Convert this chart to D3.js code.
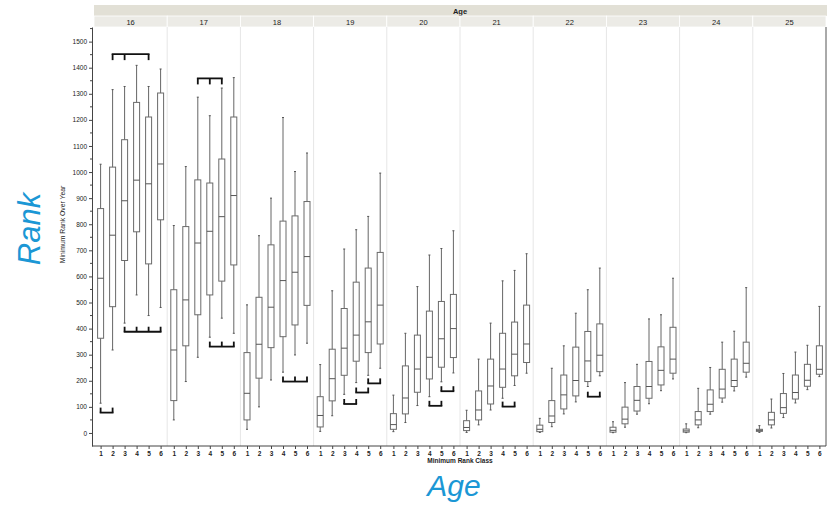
<!DOCTYPE html>
<html>
<head>
<meta charset="utf-8">
<script src="https://d3js.org/d3.v7.min.js"></script>
<style>
  body { margin: 0; background: #fff; }
  text { font-family: "Liberation Sans", Arial, sans-serif; }
</style>
</head>
<body>
<svg width="833" height="508"></svg>
<script>
var ages = [16, 17, 18, 19, 20, 21, 22, 23, 24, 25];
var classes = [1, 2, 3, 4, 5, 6];
var yTicks = [0, 100, 200, 300, 400, 500, 600, 700, 800, 900, 1000, 1100, 1200, 1300, 1400, 1500];

// [whisker low, q1, median, q3, whisker high] per class, one list per age
var stats16 = [[114, 363, 593, 860, 1030], [318, 484, 758, 1019, 1316], [421, 661, 890, 1124, 1328], [529, 771, 969, 1267, 1409], [450, 648, 955, 1211, 1328], [481, 817, 1031, 1303, 1395]];
var stats17 = [[50, 124, 318, 549, 795], [197, 334, 510, 791, 1021], [290, 453, 728, 970, 1287], [367, 529, 773, 958, 1216], [440, 582, 829, 1050, 1322], [382, 644, 910, 1211, 1362]];
var stats18 = [[14, 50, 152, 308, 491], [100, 210, 340, 520, 756], [203, 327, 482, 721, 900], [233, 369, 584, 812, 1209], [299, 414, 616, 832, 1002], [344, 489, 676, 887, 1073]];
var stats19 = [[6, 23, 67, 139, 262], [66, 123, 208, 321, 545], [148, 221, 325, 477, 705], [193, 275, 375, 578, 779], [221, 308, 426, 632, 830], [248, 341, 490, 692, 996]];
var stats20 = [[5, 14, 32, 74, 145], [40, 73, 134, 257, 382], [105, 156, 245, 375, 561], [139, 207, 290, 467, 682], [196, 252, 361, 504, 707], [230, 289, 400, 531, 775]];
var stats21 = [[2, 9, 21, 47, 87], [31, 50, 88, 161, 283], [88, 111, 180, 283, 421], [133, 175, 245, 382, 583], [182, 219, 302, 425, 623], [229, 270, 341, 490, 687]];
var stats22 = [[2, 5, 14, 30, 56], [24, 40, 65, 124, 248], [73, 92, 146, 222, 334], [119, 142, 201, 329, 459], [178, 197, 276, 389, 549], [219, 235, 298, 418, 632]];
var stats23 = [[1, 3, 10, 22, 43], [22, 35, 53, 99, 193], [72, 84, 125, 178, 263], [112, 133, 178, 274, 437], [162, 184, 240, 330, 453], [207, 229, 283, 405, 593]];
var stats24 = [[1, 3, 8, 15, 35], [20, 31, 50, 82, 171], [72, 82, 110, 165, 251], [118, 134, 168, 244, 348], [161, 178, 201, 283, 390], [214, 233, 267, 348, 557]];
var stats25 = [[2, 6, 10, 14, 28], [19, 31, 50, 79, 130], [59, 75, 97, 151, 228], [115, 130, 155, 222, 310], [166, 179, 202, 263, 336], [216, 225, 244, 334, 485]];
var allStats = [stats16, stats17, stats18, stats19, stats20, stats21, stats22, stats23, stats24, stats25];

// significance brackets: age, classes with ticks, rank value, tick direction
var bracketAge = [16, 16, 16, 17, 17, 18, 19, 19, 19, 20, 20, 21, 22];
var bracketTicks = [[2, 3, 5], [3, 4, 5, 6], [1, 2], [3, 4, 5], [4, 5, 6], [4, 5, 6], [3, 4], [4, 5], [5, 6], [4, 5], [5, 6], [4, 5], [5, 6]];
var bracketValue = [1452, 388, 78, 1359, 331, 197, 111, 155, 190, 104, 160, 101, 139];
var bracketDir = ["down", "up", "up", "down", "up", "up", "up", "up", "up", "up", "up", "up", "up"];

var svg = d3.select("svg"),
    plotLeft = 94, plotRight = 826, plotTop = 27, plotBottom = 446;

var x = d3.scaleBand().domain(ages).range([plotLeft, plotRight]);
var inner = d3.scalePoint().domain(classes).range([0, x.bandwidth()]).padding(0.55);
var y = d3.scaleLinear().domain([-50, 1556]).range([plotBottom, plotTop]);

// header strips
svg.append("rect").attr("x", plotLeft).attr("y", 5).attr("width", plotRight - plotLeft + 1).attr("height", 11).attr("fill", "#e2e0d6");
svg.append("text").attr("x", (plotLeft + plotRight) / 2).attr("y", 13.5).attr("text-anchor", "middle")
  .attr("font-size", 7.5).attr("font-weight", "bold").attr("fill", "#222").text("Age");

var head = svg.selectAll(".head").data(ages).enter().append("g").attr("class", "head")
  .attr("transform", function(d) { return "translate(" + x(d) + ",16)"; });
head.append("rect").attr("width", x.bandwidth()).attr("height", 11).attr("fill", "#ecebe6")
  .attr("stroke", "#fff").attr("stroke-width", 0.8);
head.append("text").attr("x", x.bandwidth() / 2).attr("y", 8.5).attr("text-anchor", "middle")
  .attr("font-size", 7.5).attr("fill", "#222").text(String);

// panel separators
svg.selectAll(".sep").data(ages.slice(1)).enter().append("line")
  .attr("x1", function(d) { return x(d); }).attr("x2", function(d) { return x(d); })
  .attr("y1", plotTop).attr("y2", plotBottom).attr("stroke", "#e6e6e6").attr("stroke-width", 1);
svg.append("line").attr("x1", plotRight).attr("x2", plotRight).attr("y1", plotTop).attr("y2", plotBottom)
  .attr("stroke", "#555").attr("stroke-width", 1);

// y axis
var yAxis = svg.append("g").attr("transform", "translate(" + (plotLeft - 2) + ",0)")
  .call(d3.axisLeft(y).tickValues(yTicks).tickFormat(d3.format("d")).tickSize(3).tickSizeOuter(0).tickPadding(2));
yAxis.selectAll("text").attr("font-size", 6.5).attr("fill", "#222");
yAxis.selectAll("line, path").attr("stroke", "#444");
yAxis.selectAll(".minor").data(yTicks.map(function(d) { return d + 50; })).enter().append("line")
  .attr("class", "minor").attr("x1", -2).attr("x2", 0)
  .attr("y1", function(d) { return y(d); }).attr("y2", function(d) { return y(d); })
  .attr("stroke", "#444");

svg.append("text").attr("transform", "translate(65," + ((plotTop + plotBottom) / 2 - 12) + ") rotate(-90)")
  .attr("text-anchor", "middle").attr("font-size", 6.8).attr("fill", "#222").text("Minimum Rank Over Year");

// x axes
svg.append("line").attr("x1", plotLeft - 2).attr("x2", plotRight).attr("y1", plotBottom).attr("y2", plotBottom)
  .attr("stroke", "#444");

svg.append("text").attr("x", (plotLeft + plotRight) / 2).attr("y", 463).attr("text-anchor", "middle")
  .attr("font-size", 6.5).attr("font-weight", "bold").attr("fill", "#222").text("Minimum Rank Class");

var panel = svg.selectAll(".panel").data(ages).enter().append("g").attr("class", "panel")
  .attr("transform", function(d) { return "translate(" + x(d) + ",0)"; });

panel.each(function(age, i) {
  var g = d3.select(this);
  var ax = g.append("g").attr("transform", "translate(0," + plotBottom + ")")
    .call(d3.axisBottom(inner).tickSize(3).tickSizeOuter(0).tickPadding(2));
  ax.select(".domain").remove();
  ax.selectAll("line").attr("stroke", "#444");
  ax.selectAll("text").attr("font-size", 6.5).attr("font-weight", "bold").attr("fill", "#222");

  var box = g.selectAll(".box").data(allStats[i]).enter().append("g").attr("class", "box")
    .attr("transform", function(d, j) { return "translate(" + inner(classes[j]) + ",0)"; });
  box.append("line").attr("y1", function(d) { return y(d[0]); }).attr("y2", function(d) { return y(d[4]); })
    .attr("stroke", "#666").attr("stroke-width", 1);
  box.append("rect").attr("x", -3).attr("width", 6)
    .attr("y", function(d) { return y(d[3]); })
    .attr("height", function(d) { return y(d[1]) - y(d[3]); })
    .attr("fill", "#fff").attr("stroke", "#6a6a6a").attr("stroke-width", 1);
  box.append("line").attr("x1", -3).attr("x2", 3)
    .attr("y1", function(d) { return y(d[2]); }).attr("y2", function(d) { return y(d[2]); })
    .attr("stroke", "#555").attr("stroke-width", 1);
  box.selectAll(".cap").data(function(d) { return [d[0], d[4]]; }).enter().append("line")
    .attr("x1", -1).attr("x2", 1)
    .attr("y1", function(d) { return y(d); }).attr("y2", function(d) { return y(d); })
    .attr("stroke", "#555").attr("stroke-width", 1);
});

// brackets
bracketAge.forEach(function(age, k) {
  var ticks = bracketTicks[k],
      by = y(bracketValue[k]),
      dy = bracketDir[k] == "down" ? 6 : -5,
      x0 = x(age) + inner(ticks[0]),
      x1 = x(age) + inner(ticks[ticks.length - 1]);
  var g = svg.append("g").attr("stroke", "#111").attr("stroke-width", 1.8).attr("fill", "none");
  g.append("line").attr("x1", x0 - 0.9).attr("x2", x1 + 0.9).attr("y1", by).attr("y2", by);
  ticks.forEach(function(t) {
    var tx = x(age) + inner(t);
    g.append("line").attr("x1", tx).attr("x2", tx).attr("y1", by).attr("y2", by + dy);
  });
});

// big annotation labels
svg.append("text").attr("transform", "translate(40,229) rotate(-90)")
  .attr("text-anchor", "middle").attr("font-size", 31).attr("font-style", "italic")
  .attr("fill", "#1b97d5").text("Rank");
svg.append("text").attr("x", 454).attr("y", 496).attr("text-anchor", "middle")
  .attr("font-size", 30).attr("font-style", "italic").attr("fill", "#1b97d5").text("Age");
</script>
</body>
</html>
